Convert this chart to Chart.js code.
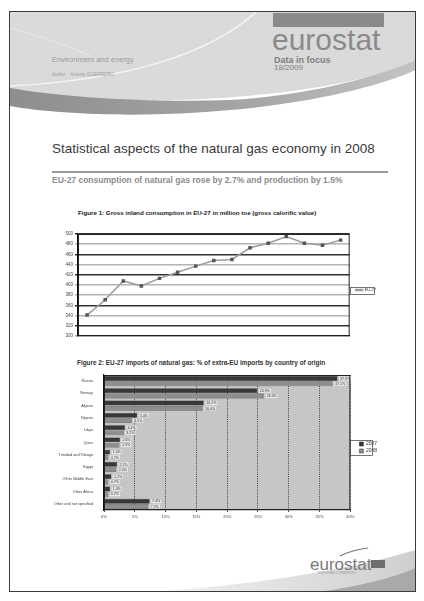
<!DOCTYPE html>
<html>
<head>
<meta charset="utf-8">
<title>Statistical aspects of the natural gas economy in 2008</title>
<script src="https://cdn.jsdelivr.net/npm/chart.js@4.4.1/dist/chart.umd.min.js"></script>
<style>
  html, body { margin: 0; padding: 0; background: #fff; }
  #page { position: relative; width: 424px; height: 601px; overflow: hidden; font-family: "Liberation Sans", Arial, sans-serif; }
  #deco { position: absolute; left: 0; top: 0; }
  .txt { position: absolute; white-space: nowrap; line-height: 1; }
  canvas { position: absolute; }
  #fig1 { left: 50px; top: 226px; }
  #fig2 { left: 52px; top: 368px; }
</style>
</head>
<body>
<div id="page">
  <svg id="deco" width="424" height="601" viewBox="0 0 424 601">
    <defs>
      <linearGradient id="swoosh" x1="0" y1="0" x2="1" y2="0">
        <stop offset="0" stop-color="#8e8e8e"/>
        <stop offset="0.6" stop-color="#a6a6a6"/>
        <stop offset="1" stop-color="#c4c4c4"/>
      </linearGradient>
      <linearGradient id="foot" x1="0" y1="0" x2="1" y2="0">
        <stop offset="0" stop-color="#f2f2f2"/>
        <stop offset="1" stop-color="#cfcfcf"/>
      </linearGradient>
    </defs>
    <!-- header band -->
    <path d="M10,12 H416 V62 C360,84 270,98 170,100 C100,101 45,96 10,89 Z" fill="#dadada"/>
    <path d="M10,88 C60,97 150,103 230,100 C300,96 370,80 416,60 L416,70 C370,90 300,104 230,110 C150,118 60,115 10,106 Z" fill="url(#swoosh)"/>
    <path d="M256,12 C205,58 120,80 10,86" stroke="#f4f4f4" stroke-width="1.4" fill="none"/>
    <path d="M10,28 C40,36 70,46 95,58" stroke="#e8e8e8" stroke-width="1" fill="none"/>
    <rect x="273" y="13" width="111" height="14" fill="#8a8a8a"/>
    <!-- title rule -->
    <rect x="52" y="171" width="336" height="2" fill="#9a9a9a"/>
    <!-- footer band -->
    <path d="M150,592 C250,585 340,572 416,550 V592 Z" fill="url(#foot)"/>
    <path d="M318,592 C360,586 392,578 416,568 V592 Z" fill="#a9a9a9"/>
    <path d="M340,556 C350,551 360,549 368,548" stroke="#777" stroke-width="1.2" fill="none"/>
    <rect x="371" y="560" width="14" height="8" fill="#6e6e6e"/>
    <!-- page frame -->
    <rect x="9.5" y="11.5" width="406" height="580" fill="none" stroke="#3a3a3a" stroke-width="1"/>
  </svg>

  <div class="txt" style="left:52px;top:56px;font-size:7.5px;color:#9a9a9a;">Environment and energy</div>
  <div class="txt" style="left:52px;top:73px;font-size:4.5px;color:#9a9a9a;">Author:&nbsp;&nbsp;&nbsp;Antonio GUERREIRO</div>
  <div class="txt" style="left:272px;top:25px;font-size:30px;color:#8a8a8a;">eurostat</div>
  <div class="txt" style="left:274px;top:55.5px;font-size:9px;font-weight:bold;color:#808080;">Data in focus</div>
  <div class="txt" style="left:274px;top:64px;font-size:8px;color:#808080;">18/2009</div>

  <div class="txt" style="left:52px;top:141.5px;font-size:13.5px;color:#3a3a3a;">Statistical aspects of the natural gas economy in 2008</div>
  <div class="txt" style="left:52px;top:176px;font-size:8.5px;font-weight:bold;color:#8c8c8c;">EU-27 consumption of natural gas rose by 2.7% and production by 1.5%</div>

  <div class="txt" style="left:78px;top:209.5px;font-size:6.2px;font-weight:bold;color:#222;">Figure 1: Gross inland consumption in EU-27 in million toe (gross calorific value)</div>
  <canvas id="fig1" width="342" height="120"></canvas>

  <div class="txt" style="left:77px;top:359.5px;font-size:6.4px;font-weight:bold;color:#333;">Figure 2: EU-27 imports of natural gas: % of extra-EU imports by country of origin</div>
  <canvas id="fig2" width="336" height="152"></canvas>

  <div class="txt" style="left:310px;top:556px;font-size:17px;color:#7a7a7a;">eurostat</div>
  <div class="txt" style="left:318px;top:572px;font-size:3px;color:#999;">EUROPEAN COMMISSION</div>
</div>

<script>
// ---- Figure 1: gross inland consumption, million toe (GCV)
const years = ["1994", "1995", "1996", "1997", "1998", "1999", "2000", "2001",
               "2002", "2003", "2004", "2005", "2006", "2007", "2008"];
const grossInland = [341, 371, 408, 398, 413, 425, 437, 448, 450, 473, 482, 495, 482, 478, 488];
const consumptionMin = 300;
const consumptionMax = 500;
const consumptionStep = 20;
const heavyLines = [500, 460, 420, 360, 320];

// ---- Figure 2: share of extra-EU imports by country of origin, %
const origins = ["Russia", "Norway", "Algeria", "Nigeria", "Libya", "Qatar",
                 "Trinidad and Tobago", "Egypt", "Other Middle East", "Other Africa",
                 "Other and not specified"];
const share2007 = [37.9, 24.9, 16.2, 5.4, 3.4, 2.6, 1.0, 2.1, 1.2, 1.0, 7.4];
const share2008 = [37.1, 26.0, 16.0, 4.5, 3.2, 2.5, 0.7, 2.0, 0.7, 0.7, 7.2];
const shareMax = 40;
const shareStep = 5;

const FONT = '"Liberation Sans", Arial, sans-serif';

// fill behind the plot area
const plotFill = {
  id: "plotFill",
  beforeDraw(chart, args, opts) {
    const a = chart.chartArea;
    chart.ctx.save();
    chart.ctx.fillStyle = opts.color || "#fff";
    chart.ctx.fillRect(a.left, a.top, a.width, a.height);
    chart.ctx.restore();
  }
};

// push the legend a few pixels away from the plot
const legendNudge = {
  id: "legendNudge",
  beforeDraw(chart, args, opts) {
    const dx = opts.dx || 0;
    chart.legend.left += dx;
    chart.legend.right += dx;
  }
};

// frame round the plot area and a box round the legend items
const frames = {
  id: "frames",
  afterDraw(chart) {
    const { ctx, chartArea: a, legend } = chart;
    ctx.save();
    ctx.strokeStyle = "#222";
    ctx.lineWidth = 1;
    ctx.strokeRect(a.left + 0.5, a.top + 0.5, a.width - 1, a.height - 1);
    const boxes = legend.legendHitBoxes;
    if (boxes && boxes.length) {
      const x0 = Math.min(...boxes.map(b => b.left)) - 2;
      const y0 = Math.min(...boxes.map(b => b.top)) - 1.5;
      const x1 = Math.max(...boxes.map(b => b.left + b.width)) + 2;
      const y1 = Math.max(...boxes.map(b => b.top + b.height)) + 1.5;
      ctx.strokeStyle = "#555";
      ctx.lineWidth = 0.8;
      ctx.strokeRect(Math.round(x0) + 0.5, Math.round(y0) + 0.5, Math.round(x1 - x0), Math.round(y1 - y0));
    }
    ctx.restore();
  }
};

// percentage written at the end of every bar
const barValues = {
  id: "barValues",
  afterDatasetsDraw(chart) {
    const { ctx } = chart;
    ctx.save();
    ctx.font = "3.6px " + FONT;
    ctx.textBaseline = "middle";
    chart.data.datasets.forEach((ds, di) => {
      chart.getDatasetMeta(di).data.forEach((bar, i) => {
        const txt = ds.data[i].toFixed(1) + "%";
        const w = ctx.measureText(txt).width;
        const x = bar.x + 1.5;
        ctx.fillStyle = "rgba(235,235,235,0.9)";
        ctx.fillRect(x, bar.y - 2, w + 2, 4);
        ctx.fillStyle = "#333";
        ctx.fillText(txt, x + 1, bar.y + 0.2);
      });
    });
    ctx.restore();
  }
};

new Chart(document.getElementById("fig1"), {
  type: "line",
  data: {
    labels: years,
    datasets: [{
      label: "EU-27",
      data: grossInland,
      borderColor: "#9c9c9c",
      borderWidth: 1.5,
      pointStyle: "rect",
      pointRadius: 1.4,
      pointBackgroundColor: "#555",
      pointBorderColor: "#555",
      tension: 0
    }]
  },
  options: {
    responsive: false,
    animation: false,
    layout: { padding: { top: 8, right: 10, left: 0, bottom: 0 } },
    plugins: {
      legend: {
        position: "right",
        labels: { font: { size: 4, family: FONT }, color: "#333", boxWidth: 7, boxHeight: 1, padding: 2 }
      },
      legendNudge: { dx: 4 },
      tooltip: { enabled: false },
      plotFill: { color: "#fff" }
    },
    scales: {
      x: {
        offset: true,
        grid: { display: false },
        border: { color: "#111", width: 1.2 },
        ticks: { font: { size: 4.8, family: FONT }, color: "#333", padding: 2, maxRotation: 0, autoSkip: false },
        afterFit: s => { s.height = 10; }
      },
      y: {
        min: consumptionMin,
        max: consumptionMax,
        ticks: { stepSize: consumptionStep, font: { size: 4.5, family: FONT }, color: "#444", padding: 2 },
        grid: {
          color: c => heavyLines.includes(c.tick.value) ? "#333" : "#b4b4b4",
          lineWidth: 1.5,
          tickLength: 3
        },
        border: { color: "#111", width: 1.2 },
        afterFit: s => { s.width = 28; }
      }
    }
  },
  plugins: [plotFill, legendNudge, frames]
});

new Chart(document.getElementById("fig2"), {
  type: "bar",
  data: {
    labels: origins,
    datasets: [
      { label: "2007", data: share2007, backgroundColor: "#383838", borderColor: "#222", borderWidth: 0.5 },
      { label: "2008", data: share2008, backgroundColor: "#8e8e8e", borderColor: "#333", borderWidth: 0.5 }
    ]
  },
  options: {
    indexAxis: "y",
    responsive: false,
    animation: false,
    datasets: { bar: { categoryPercentage: 0.86, barPercentage: 0.92 } },
    layout: { padding: { top: 7, right: 8, left: 0, bottom: 0 } },
    plugins: {
      legend: {
        position: "right",
        labels: { font: { size: 5, family: FONT }, color: "#333", boxWidth: 4, boxHeight: 4, padding: 2 }
      },
      legendNudge: { dx: 7 },
      tooltip: { enabled: false },
      plotFill: { color: "#c6c6c6" }
    },
    scales: {
      x: {
        min: 0,
        max: shareMax,
        ticks: { stepSize: shareStep, callback: v => v + "%", font: { size: 4, family: FONT }, color: "#444", padding: 2, maxRotation: 0 },
        grid: { color: "#222", lineWidth: 0.8, tickLength: 2 },
        border: { color: "#111", width: 1.2, dash: [1, 1.2] },
        afterFit: s => { s.height = 10; }
      },
      y: {
        grid: { display: false },
        ticks: { font: { size: 3.8, family: FONT }, color: "#444", padding: 3, autoSkip: false },
        border: { color: "#111", width: 1.2 },
        afterFit: s => { s.width = 52; }
      }
    }
  },
  plugins: [plotFill, legendNudge, frames, barValues]
});
</script>
</body>
</html>
